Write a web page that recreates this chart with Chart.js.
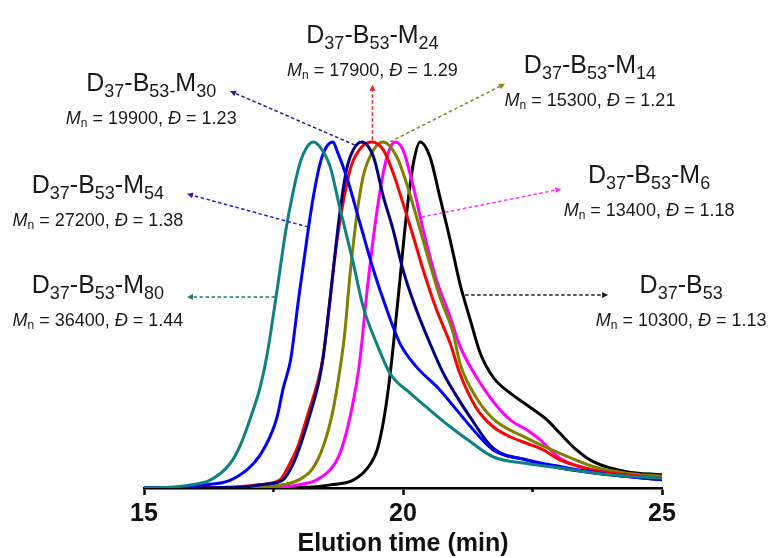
<!DOCTYPE html>
<html lang="en">
<head>
<meta charset="UTF-8">
<title>SEC traces</title>
<script src="https://cdn.jsdelivr.net/npm/chart.js"></script>
<style>
  html, body { margin: 0; padding: 0; background: #fff; }
  #wrap { width: 773px; height: 558px; }
</style>
</head>
<body>
<div id="wrap"><canvas id="sec"></canvas></div>
<script>
// elution time (min) / normalised RI signal for each sample
const m80Time   = [15, 15.5, 15.89, 16.27, 16.66, 16.85, 17.05, 17.24, 17.37, 17.55, 17.74, 17.86, 18.01, 18.15, 18.27, 18.4, 18.59, 18.78, 19.04, 19.23, 19.49, 19.75, 20.14, 20.52, 20.91, 21.29, 21.74, 22.39, 23.03, 24.0, 25];
const m80Signal = [0, 0.002, 0.009, 0.022, 0.07, 0.12, 0.2, 0.29, 0.38, 0.553, 0.746, 0.842, 0.938, 0.986, 1.0, 0.985, 0.93, 0.81, 0.65, 0.524, 0.418, 0.331, 0.274, 0.225, 0.177, 0.135, 0.09, 0.071, 0.058, 0.038, 0.028];

const m54Time   = [15, 15.7, 16.14, 16.66, 17.11, 17.34, 17.56, 17.69, 17.83, 17.99, 18.17, 18.27, 18.4, 18.52, 18.65, 18.72, 18.91, 19.17, 19.43, 19.69, 19.94, 20.26, 20.65, 21.04, 21.29, 21.74, 22.39, 23.03, 24.0, 25];
const m54Signal = [0, 0.002, 0.009, 0.022, 0.07, 0.12, 0.2, 0.29, 0.37, 0.553, 0.746, 0.842, 0.938, 0.985, 1.0, 0.977, 0.9, 0.765, 0.63, 0.514, 0.418, 0.35, 0.293, 0.225, 0.18, 0.11, 0.081, 0.062, 0.038, 0.024];

const m30Time   = [15, 16.9, 17.3, 17.68, 17.88, 18.01, 18.2, 18.38, 18.46, 18.59, 18.72, 18.78, 18.91, 19.04, 19.2, 19.43, 19.62, 19.81, 20.0, 20.26, 20.52, 20.78, 21.04, 21.29, 21.74, 22.39, 23.03, 24.0, 25];
const m30Signal = [0, 0.003, 0.01, 0.023, 0.07, 0.12, 0.21, 0.31, 0.38, 0.545, 0.72, 0.795, 0.92, 0.977, 1.0, 0.957, 0.842, 0.746, 0.63, 0.514, 0.418, 0.331, 0.264, 0.206, 0.115, 0.081, 0.058, 0.038, 0.024];

const m24Time   = [15, 16.8, 17.25, 17.62, 17.82, 17.97, 18.17, 18.36, 18.46, 18.59, 18.72, 18.85, 19.0, 19.2, 19.4, 19.62, 19.81, 20.0, 20.2, 20.39, 20.65, 20.91, 21.1, 21.42, 21.74, 22.07, 22.39, 22.71, 23.03, 23.67, 24.31, 25];
const m24Signal = [0, 0.003, 0.01, 0.023, 0.072, 0.12, 0.216, 0.31, 0.38, 0.54, 0.71, 0.83, 0.93, 0.985, 1.0, 0.977, 0.91, 0.823, 0.726, 0.63, 0.514, 0.418, 0.33, 0.23, 0.177, 0.148, 0.129, 0.11, 0.081, 0.052, 0.038, 0.029];

const m14Time   = [15, 17.3, 17.7, 18.01, 18.25, 18.46, 18.65, 18.78, 18.87, 18.98, 19.11, 19.23, 19.43, 19.62, 19.88, 20.07, 20.26, 20.46, 20.71, 20.97, 21.1, 21.42, 21.74, 22.39, 23.03, 23.67, 24.31, 25];
const m14Signal = [0, 0.003, 0.01, 0.025, 0.055, 0.12, 0.225, 0.34, 0.44, 0.62, 0.79, 0.9, 0.977, 1.0, 0.957, 0.88, 0.784, 0.678, 0.553, 0.447, 0.36, 0.26, 0.2, 0.144, 0.1, 0.062, 0.043, 0.034];

const m6Time    = [15, 17.7, 18.0, 18.33, 18.69, 18.83, 19.02, 19.16, 19.3, 19.43, 19.56, 19.69, 19.85, 20.0, 20.2, 20.39, 20.65, 20.91, 21.1, 21.42, 21.74, 22.07, 22.39, 22.65, 23.03, 23.67, 24.31, 25];
const m6Signal  = [0, 0.003, 0.01, 0.023, 0.072, 0.12, 0.235, 0.36, 0.56, 0.726, 0.861, 0.957, 1.0, 0.977, 0.87, 0.746, 0.6, 0.495, 0.41, 0.32, 0.25, 0.197, 0.168, 0.139, 0.086, 0.052, 0.038, 0.029];

const m0Time    = [15, 18.1, 18.6, 19.03, 19.3, 19.5, 19.62, 19.72, 19.81, 19.94, 20.07, 20.2, 20.33, 20.52, 20.71, 20.91, 21.1, 21.29, 21.49, 21.74, 22.07, 22.39, 22.78, 23.03, 23.35, 23.67, 24.31, 25];
const m0Signal  = [0, 0.002, 0.009, 0.022, 0.055, 0.11, 0.19, 0.29, 0.408, 0.6, 0.794, 0.938, 1.0, 0.957, 0.842, 0.717, 0.59, 0.49, 0.39, 0.32, 0.274, 0.24, 0.197, 0.158, 0.11, 0.076, 0.047, 0.038];

// sample labels (_{..} = subscript) and SEC results
const sampleNames = ['D_{37}-B_{53}-M_{80}', 'D_{37}-B_{53}-M_{54}', 'D_{37}-B_{53-}M_{30}', 'D_{37}-B_{53}-M_{24}',
                     'D_{37}-B_{53}-M_{14}', 'D_{37}-B_{53}-M_{6}', 'D_{37}-B_{53}'];
const mnValues   = [36400, 27200, 19900, 17900, 15300, 13400, 10300];
const dispersity = ['1.44', '1.38', '1.23', '1.29', '1.21', '1.18', '1.13'];
const xTicks     = [15, 20, 25];
const minorTicks = [17.5, 22.5];

const traces = [
  { t: m80Time, s: m80Signal, color: '#108080' },
  { t: m54Time, s: m54Signal, color: '#0000ff' },
  { t: m30Time, s: m30Signal, color: '#000080' },
  { t: m24Time, s: m24Signal, color: '#ff0000' },
  { t: m14Time, s: m14Signal, color: '#808000' },
  { t: m6Time,  s: m6Signal,  color: '#ff00ff' },
  { t: m0Time,  s: m0Signal,  color: '#000000' }
];

// label anchor (centre x, baseline y) and arrow tail -> head, all in data units
const callouts = [
  { at: [14.11, 0.564], from: [17.53, 0.552], to: [15.83, 0.552], arrow: '#1a7a72' },
  { at: [14.11, 0.853], from: [18.17, 0.754], to: [15.83, 0.850], arrow: '#2020d0' },
  { at: [15.14, 1.147], from: [19.07, 0.991], to: [16.66, 1.147], arrow: '#20208a' },
  { at: [19.41, 1.286], from: [19.41, 1.006], to: [19.41, 1.165], arrow: '#ff2020' },
  { at: [23.61, 1.199], from: [19.75, 1.000], to: [21.97, 1.168], arrow: '#8a8a10' },
  { at: [24.75, 0.881], from: [20.36, 0.783], to: [23.06, 0.864], arrow: '#ff30ff' },
  { at: [25.37, 0.564], from: [21.20, 0.558], to: [23.96, 0.558], arrow: '#202020' }
];

const FONT = '"Liberation Sans", Arial, sans-serif';

function drawRuns(ctx, runs, cx, baseline) {
  let w = 0;
  runs.forEach(r => { ctx.font = r.font; r.w = ctx.measureText(r.text).width; w += r.w; });
  let x = cx - w / 2;
  runs.forEach(r => {
    ctx.font = r.font;
    ctx.fillText(r.text, x, baseline + (r.dy || 0));
    x += r.w;
  });
}

function nameRuns(name) {
  const runs = [];
  name.split(/(_\{[^}]*\})/).forEach(p => {
    if (!p) return;
    if (p.startsWith('_{')) runs.push({ text: p.slice(2, -1), font: '18px ' + FONT, dy: 6 });
    else runs.push({ text: p, font: '25px ' + FONT });
  });
  return runs;
}

function statRuns(i) {
  return [
    { text: 'M', font: 'italic 18px ' + FONT },
    { text: 'n', font: '12px ' + FONT, dy: 3 },
    { text: ' = ' + mnValues[i] + ', ', font: '18px ' + FONT },
    { text: 'Đ', font: 'italic 18px ' + FONT },
    { text: ' = ' + dispersity[i], font: '18px ' + FONT }
  ];
}

const annotate = {
  id: 'annotate',
  afterDraw(chart) {
    const ctx = chart.ctx;
    const xs = chart.scales.x, ys = chart.scales.y;
    const base = chart.chartArea.bottom;
    ctx.save();

    // minor ticks
    ctx.strokeStyle = '#000';
    ctx.lineWidth = 2.5;
    minorTicks.forEach(v => {
      const px = xs.getPixelForValue(v);
      ctx.beginPath();
      ctx.moveTo(px, base);
      ctx.lineTo(px, base + 4);
      ctx.stroke();
    });

    callouts.forEach((c, i) => {
      const x1 = xs.getPixelForValue(c.from[0]), y1 = ys.getPixelForValue(c.from[1]);
      const x2 = xs.getPixelForValue(c.to[0]), y2 = ys.getPixelForValue(c.to[1]);
      const ang = Math.atan2(y2 - y1, x2 - x1);
      ctx.strokeStyle = c.arrow;
      ctx.fillStyle = c.arrow;
      ctx.lineWidth = 1.5;
      ctx.setLineDash([3.5, 2.5]);
      ctx.beginPath();
      ctx.moveTo(x1, y1);
      ctx.lineTo(x2 - 4 * Math.cos(ang), y2 - 4 * Math.sin(ang));
      ctx.stroke();
      ctx.setLineDash([]);
      ctx.beginPath();
      ctx.moveTo(x2, y2);
      ctx.lineTo(x2 - 6 * Math.cos(ang) + 3 * Math.sin(ang), y2 - 6 * Math.sin(ang) - 3 * Math.cos(ang));
      ctx.lineTo(x2 - 6 * Math.cos(ang) - 3 * Math.sin(ang), y2 - 6 * Math.sin(ang) + 3 * Math.cos(ang));
      ctx.closePath();
      ctx.fill();

      const cx = xs.getPixelForValue(c.at[0]);
      const by = ys.getPixelForValue(c.at[1]);
      ctx.fillStyle = '#1a1a1a';
      ctx.textBaseline = 'alphabetic';
      ctx.textAlign = 'left';
      drawRuns(ctx, nameRuns(sampleNames[i]), cx, by);
      drawRuns(ctx, statRuns(i), cx, by + 33);
    });
    ctx.restore();
  }
};

new Chart(document.getElementById('sec'), {
  type: 'line',
  data: {
    datasets: traces.map(tr => ({
      data: tr.t.map((t, i) => ({ x: t, y: tr.s[i] })),
      borderColor: tr.color,
      borderWidth: 3,
      pointRadius: 0,
      fill: false,
      cubicInterpolationMode: 'monotone'
    }))
  },
  options: {
    responsive: true,
    maintainAspectRatio: false,
    animation: false,
    layout: { padding: { left: 144, right: 111, top: 0, bottom: 0 } },
    plugins: { legend: { display: false }, tooltip: { enabled: false } },
    scales: {
      x: {
        type: 'linear',
        min: 15,
        max: 25,
        afterBuildTicks: axis => { axis.ticks = xTicks.map(v => ({ value: v })); },
        grid: { drawOnChartArea: false, drawTicks: true, tickLength: 7, tickWidth: 2.5, tickColor: '#000' },
        border: { display: true, color: '#000', width: 2.5 },
        ticks: {
          color: '#111',
          padding: 7,
          maxRotation: 0,
          font: { family: FONT, size: 25, weight: 'bold', lineHeight: 1.0 }
        },
        title: {
          display: true,
          text: 'Elution time (min)',
          color: '#111',
          padding: { top: 0, bottom: 4 },
          font: { family: FONT, size: 25, weight: 'bold', lineHeight: 0.8 }
        }
      },
      y: {
        display: false,
        min: 0,
        max: 1.41
      }
    }
  },
  plugins: [annotate]
});
</script>
</body>
</html>
